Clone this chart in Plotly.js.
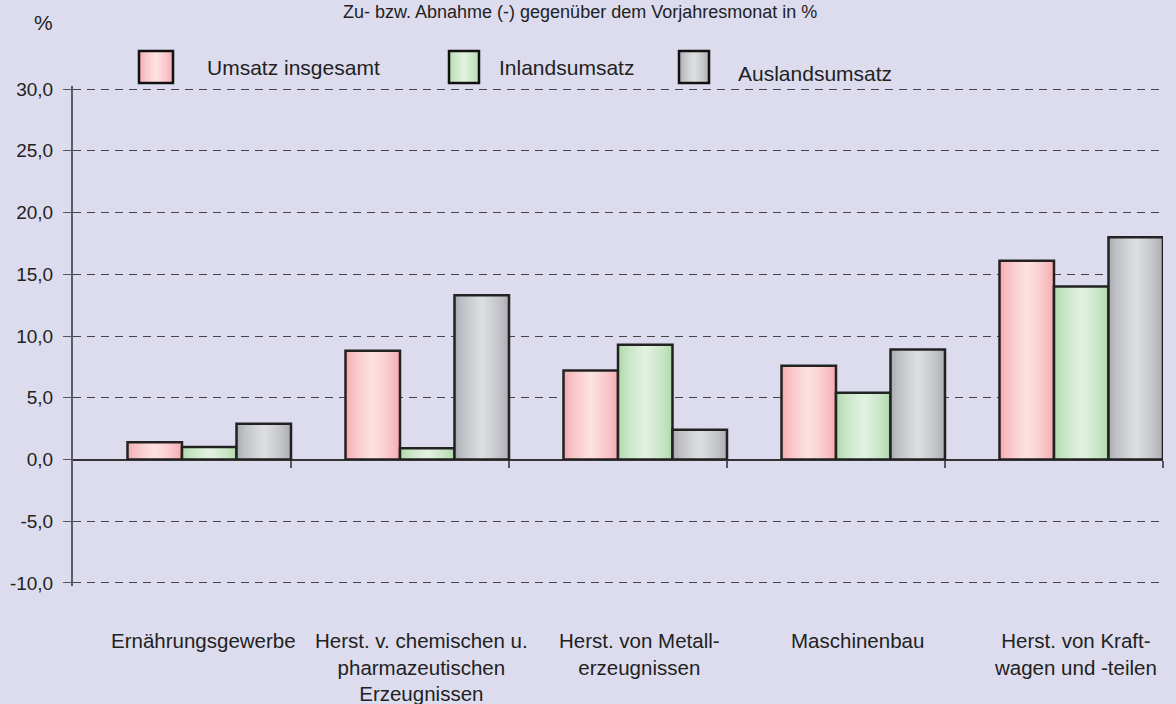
<!DOCTYPE html>
<html>
<head>
<meta charset="utf-8">
<script src="https://cdn.plot.ly/plotly-3.0.1.min.js"></script>
<style>
  html, body { margin: 0; padding: 0; background: #dcdcee; }
  #chart { width: 1176px; height: 704px; }
</style>
</head>
<body>
<div id="chart"></div>
<script>
// ---- data ----
const categories = [
  "Ernährungsgewerbe",
  "Herst. v. chemischen u.<br>pharmazeutischen<br>Erzeugnissen",
  "Herst. von Metall-<br>erzeugnissen",
  "Maschinenbau",
  "Herst. von Kraft-<br>wagen und -teilen"
];
const seriesNames = ["Umsatz insgesamt", "Inlandsumsatz", "Auslandsumsatz"];
const umsatzInsgesamt = [1.4, 8.8, 7.2, 7.6, 16.1];
const inlandsumsatz   = [1.0, 0.9, 9.3, 5.4, 14.0];
const auslandsumsatz  = [2.9, 13.3, 2.4, 8.9, 18.0];
const yTickValues = [-10, -5, 0, 5, 10, 15, 20, 25, 30];
const yTickLabels = ["-10,0", "-5,0", "0,0", "5,0", "10,0", "15,0", "20,0", "25,0", "30,0"];
const titleText = "Zu- bzw. Abnahme (-) gegenüber dem Vorjahresmonat in %";
const yUnit = "%";

// ---- styling ----
const BG = "#dcdcee";
const FONT = "Liberation Sans, Arial, sans-serif";
const TXT = "#222222";
const edgeCols   = ["#f4aaaf", "#afd9ab", "#aaacb2"];
const centerCols = ["#fde1e1", "#e1f1df", "#dcdde0"];
const seriesVals = [umsatzInsgesamt, inlandsumsatz, auslandsumsatz];
const BW = 0.25;
const centers = [-0.125, 0.125, 0.375];
const N = 12;

function hex2rgb(h){ return [1,3,5].map(i => parseInt(h.substr(i,2),16)); }
function mix(a, b, t){
  const A = hex2rgb(a), B = hex2rgb(b);
  return "rgb(" + A.map((v,i) => Math.round(v + (B[i]-v)*t)).join(",") + ")";
}

const xIdx = categories.map((c, i) => i);
const traces = [];
seriesVals.forEach((vals, s) => {
  for (let k = 0; k < N; k++) {
    const f = 1 - k / N;
    const w = BW * f;
    const t = Math.pow(k / (N - 1), 0.7);
    traces.push({
      type: "bar", x: xIdx, y: vals, width: w, offset: centers[s] - w / 2,
      marker: { color: mix(edgeCols[s], centerCols[s], t), line: { width: 0 } },
      hoverinfo: "skip", showlegend: false
    });
  }
  traces.push({
    type: "bar", x: xIdx, y: vals, width: BW, offset: centers[s] - BW / 2,
    name: seriesNames[s],
    marker: { color: "rgba(0,0,0,0)", line: { color: "#222222", width: 2.5 } },
    showlegend: false
  });
});

// plot area in pixels (range padded slightly so the edge gridlines are drawn)
const PAD = 0.25, PXU = 12.35;
const YMIN = -10 - PAD, YMAX = 30 + PAD;
const L = 73, R = 1163;
const T = 89 - PAD * PXU, B = 583 + PAD * PXU;
const px = x => (x - L) / (R - L);
const py = y => (B - y) / (B - T);

const shapes = [];
const annotations = [];

// legend (boxes with gradient + labels)
const legBoxes = [[139, 173, 51, 83], [449, 479, 51, 83], [679, 709, 51, 83]];
const legText = [[205, 67], [497, 67], [736, 73]];
legBoxes.forEach((b, s) => {
  const [x0, x1, y0, y1] = b;
  const M = 10;
  for (let k = 0; k < M; k++) {
    const f = 1 - k / M;
    const cx = (x0 + x1) / 2, hw = (x1 - x0) / 2 * f;
    shapes.push({ type: "rect", xref: "paper", yref: "paper",
      x0: px(cx - hw), x1: px(cx + hw), y0: py(y1), y1: py(y0),
      fillcolor: mix(edgeCols[s], centerCols[s], Math.pow(k / (M - 1), 0.7)),
      line: { width: 0 } });
  }
  shapes.push({ type: "rect", xref: "paper", yref: "paper",
    x0: px(x0), x1: px(x1), y0: py(y1), y1: py(y0),
    fillcolor: "rgba(0,0,0,0)", line: { color: "#111111", width: 2.5 } });
  annotations.push({ xref: "paper", yref: "paper", x: px(legText[s][0]), y: py(legText[s][1]),
    xanchor: "left", yanchor: "middle", showarrow: false, text: seriesNames[s],
    font: { family: FONT, size: 21, color: TXT } });
});

// category labels, centred on each bar group
categories.forEach((c, i) => {
  annotations.push({ xref: "x", yref: "paper", x: i + 0.1, y: py(627),
    xanchor: "center", yanchor: "top", showarrow: false, text: c,
    font: { family: FONT, size: 20.5, color: TXT }, align: "center" });
});

// title and unit
annotations.push({ xref: "paper", yref: "paper", x: px(580), y: py(12),
  xanchor: "center", yanchor: "middle", showarrow: false, text: titleText,
  font: { family: FONT, size: 18, color: TXT } });
annotations.push({ xref: "paper", yref: "paper", x: px(43), y: py(22),
  xanchor: "center", yanchor: "middle", showarrow: false, text: yUnit,
  font: { family: FONT, size: 21, color: TXT } });

const layout = {
  width: 1176, height: 704,
  paper_bgcolor: BG, plot_bgcolor: BG,
  margin: { l: L, r: 1176 - R, t: T, b: 704 - B, pad: 0 },
  barmode: "overlay",
  showlegend: false,
  font: { family: FONT, size: 19, color: TXT },
  xaxis: {
    type: "linear", range: [-0.5, 4.5],
    anchor: "free", position: py(460),
    showline: true, linecolor: "#333333", linewidth: 1,
    ticks: "outside", ticklen: 7, tickcolor: "#555566", tickwidth: 2,
    tickvals: [0.5, 1.5, 2.5, 3.5, 4.5],
    showticklabels: false, showgrid: false, zeroline: false
  },
  yaxis: {
    range: [YMIN, YMAX],
    tickmode: "array", tickvals: yTickValues, ticktext: yTickLabels,
    showline: true, linecolor: "#5a5a6a", linewidth: 2,
    ticks: "outside", ticklen: 8, tickcolor: "#555566", tickwidth: 1,
    showgrid: true, gridcolor: "#444444", gridwidth: 1, griddash: "8px,6px",
    zeroline: true, zerolinecolor: "#333333", zerolinewidth: 1,
    tickfont: { family: FONT, size: 19, color: TXT },
    ticklabelstandoff: 6
  },
  shapes: shapes,
  annotations: annotations
};

Plotly.newPlot("chart", traces, layout, { displayModeBar: false, staticPlot: true });
</script>
</body>
</html>
